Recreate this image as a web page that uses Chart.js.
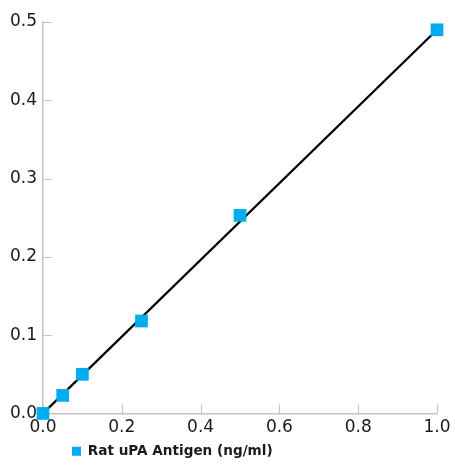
<!DOCTYPE html>
<html lang="en">
  <head>
    <meta charset="UTF-8" />
    <title>Rat uPA Antigen</title>
    <script src="https://cdn.jsdelivr.net/npm/chart.js"></script>
    <style>
      html, body { margin: 0; padding: 0; background: #fff; }
      .wrap { width: 455px; height: 468px; }
    </style>
  </head>
  <body>
    <div class="wrap">
      <canvas id="stdChart" width="455" height="468"></canvas>
    </div>

    <script>
      // standard curve points
      const concentrations = [0, 0.05, 0.1, 0.25, 0.5, 1.0];
      const absorbance = [0, 0.023, 0.05, 0.118, 0.253, 0.49];

      // fitted line ends
      const fitX = [0, 1.0];
      const fitY = [0, 0.49];

      const xTicks = [0, 0.2, 0.4, 0.6, 0.8, 1.0];
      const yTicks = [0, 0.1, 0.2, 0.3, 0.4, 0.5];

      const seriesLabel = 'Rat uPA Antigen (ng/ml)';
      const blue = '#00aeef';

      // inward tick marks on both axes
      const innerTicks = {
        id: 'innerTicks',
        beforeDatasetsDraw(chart) {
          const ctx = chart.ctx;
          const xs = chart.scales.x, ys = chart.scales.y;
          ctx.save();
          ctx.strokeStyle = '#c4c4c4';
          ctx.lineWidth = 1.2;
          ctx.beginPath();
          xTicks.forEach(v => {
            const px = Math.round(xs.getPixelForValue(v)) + 0.5;
            ctx.moveTo(px, ys.bottom);
            ctx.lineTo(px, ys.bottom - 9);
          });
          yTicks.forEach(v => {
            const py = Math.round(ys.getPixelForValue(v)) + 0.5;
            ctx.moveTo(xs.left, py);
            ctx.lineTo(xs.left + 9, py);
          });
          ctx.stroke();
          ctx.restore();
        }
      };

      // move legend under the plot, a bit right of the y axis
      const legendShift = {
        id: 'legendShift',
        afterLayout(chart) {
          const lg = chart.legend;
          const w = lg.right - lg.left;
          lg.left = 67;
          lg.right = 67 + w;
        }
      };

      const tickFont = { family: 'DejaVu Sans', size: 17 };

      const ctx = document.getElementById('stdChart').getContext('2d');
      new Chart(ctx, {
        type: 'scatter',
        data: {
          datasets: [
            {
              label: seriesLabel,
              data: concentrations.map((c, i) => ({ x: c, y: absorbance[i] })),
              pointStyle: 'rect',
              pointRadius: 9,
              pointHoverRadius: 9,
              backgroundColor: blue,
              borderColor: blue,
              borderWidth: 0,
              clip: false
            },
            {
              label: 'fit',
              type: 'line',
              data: fitX.map((c, i) => ({ x: c, y: fitY[i] })),
              borderColor: '#000',
              borderWidth: 2.2,
              pointRadius: 0,
              fill: false,
              clip: false
            }
          ]
        },
        options: {
          responsive: false,
          animation: false,
          layout: { padding: { left: 0, right: 18, top: 22, bottom: 0 } },
          plugins: {
            tooltip: { enabled: false },
            legend: {
              position: 'bottom',
              align: 'start',
              labels: {
                filter: item => item.text === seriesLabel,
                boxWidth: 9,
                boxHeight: 9,
                padding: 5,
                color: '#1a1a1a',
                font: { family: 'DejaVu Sans', size: 13.6, weight: 'bold' }
              }
            }
          },
          scales: {
            x: {
              type: 'linear',
              min: 0,
              max: 1,
              afterBuildTicks: s => { s.ticks = xTicks.map(v => ({ value: v })); },
              afterFit: s => { s.height = 26; },
              grid: { display: false, drawTicks: false },
              border: { display: true, color: '#c4c4c4', width: 1.5 },
              ticks: {
                padding: 4,
                color: '#1a1a1a',
                font: tickFont,
                callback: v => v.toFixed(1)
              }
            },
            y: {
              min: 0,
              max: 0.5,
              afterBuildTicks: s => { s.ticks = yTicks.map(v => ({ value: v })); },
              afterFit: s => { s.width = 43; },
              grid: { display: false, drawTicks: false },
              border: { display: true, color: '#c4c4c4', width: 1.5 },
              ticks: {
                padding: 6,
                color: '#1a1a1a',
                font: tickFont,
                callback: v => v.toFixed(1)
              }
            }
          }
        },
        plugins: [innerTicks, legendShift]
      });
    </script>
  </body>
</html>
